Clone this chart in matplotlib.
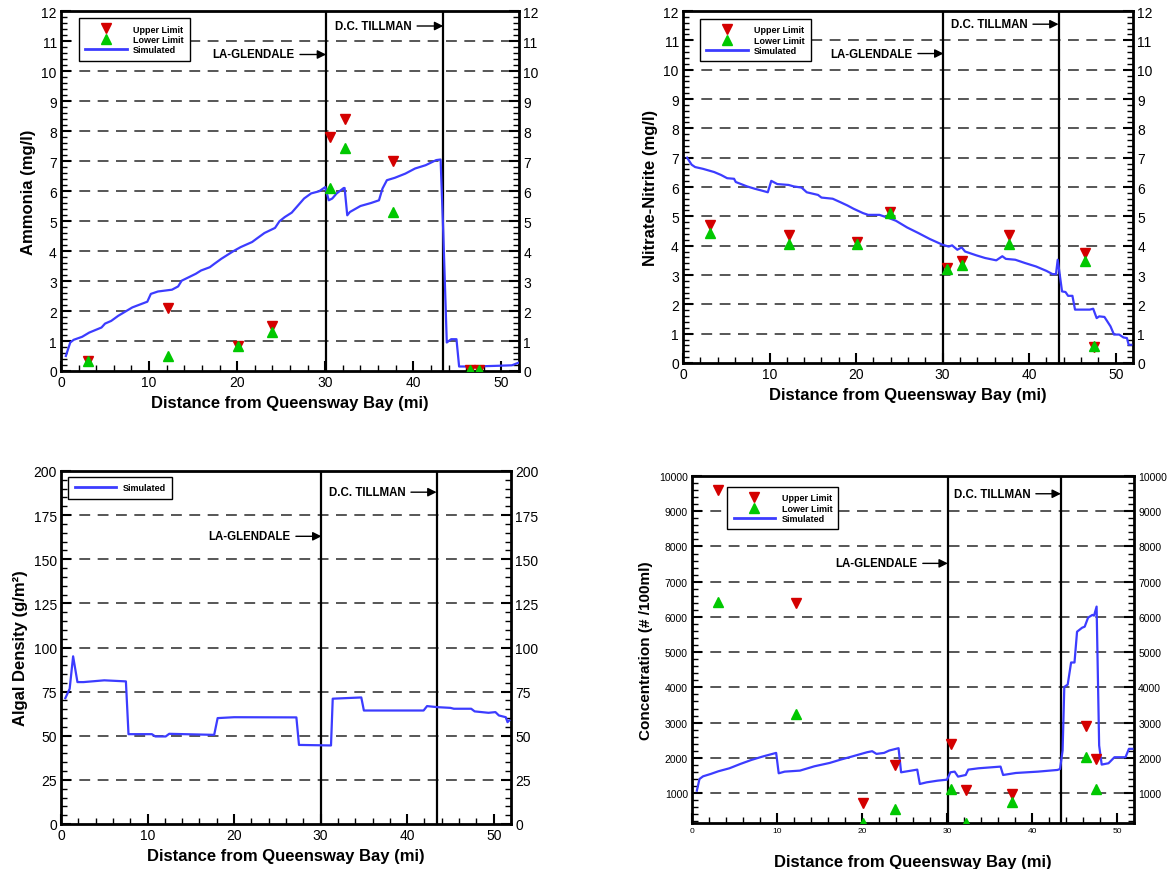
import matplotlib
matplotlib.use('Agg')
import matplotlib.pyplot as plt
from matplotlib.ticker import MultipleLocator, FixedLocator
from matplotlib.lines import Line2D

plt.rcParams['font.family'] = ['Liberation Sans', 'DejaVu Sans']

# ---------------- data ----------------
stations = [3.1, 12.2, 20.1, 23.9, 30.5, 32.2, 37.7, 46.4, 47.5]

nh3_upper = [0.35, 2.1, 0.85, 1.5, 7.8, 8.4, 7.0, 0.05, 0.05]
nh3_lower = [0.33, 0.5, 0.83, 1.3, 6.1, 7.45, 5.3, 0.03, 0.03]
nh3_x = [0.55, 1.05, 1.44, 2.4, 3.2, 4.6, 5.0, 5.7, 6.5, 8.1, 9.8, 10.2, 11.0, 12.6, 13.3,
         13.7, 15.3, 15.9, 16.9, 17.4, 18.2, 19.6, 20.4, 21.7, 22.3, 23.1, 24.3, 24.8, 25.4,
         26.2, 27.6, 28.4, 29.3, 30.0, 30.4, 30.8, 31.3, 32.1, 32.2, 32.5, 32.8, 34.0, 35.2,
         36.1, 36.5, 37.0, 37.9, 39.1, 40.2, 41.4, 42.6, 43.1, 43.4, 43.8, 44.3, 44.9, 45.2,
         46.9, 49.2, 51.2, 51.8, 52.0]
nh3_y = [0.5, 0.95, 1.04, 1.14, 1.28, 1.45, 1.58, 1.67, 1.84, 2.12, 2.31, 2.57, 2.65, 2.71, 2.82,
         3.01, 3.24, 3.35, 3.46, 3.57, 3.74, 4.0, 4.13, 4.30, 4.43, 4.60, 4.77, 4.99, 5.13,
         5.28, 5.75, 5.92, 5.99, 6.13, 5.69, 5.75, 5.92, 6.10, 6.10, 5.19, 5.30, 5.50, 5.60,
         5.69, 6.08, 6.36, 6.44, 6.58, 6.75, 6.86, 7.03, 7.05, 4.63, 0.95, 1.06, 1.06, 0.15,
         0.15, 0.17, 0.19, 0.26, 0.28]

no3_upper = [4.7, 4.35, 4.12, 5.15, 3.25, 3.47, 4.35, 3.75, 0.55]
no3_lower = [4.42, 4.05, 4.07, 5.12, 3.2, 3.33, 4.07, 3.47, 0.57]
no3_x = [0.47, 1.0, 1.4, 2.3, 3.6, 4.4, 5.1, 5.9, 6.1, 7.4, 8.3, 9.2, 9.8, 10.2, 10.9, 12.2,
         12.8, 13.7, 14.3, 15.6, 16.0, 17.3, 18.2, 19.0, 19.7, 20.8, 21.4, 22.7, 23.8, 24.6,
         25.9, 27.2, 28.5, 30.0, 30.7, 31.1, 31.7, 32.2, 32.6, 33.9, 34.9, 36.2, 36.9, 37.3,
         38.4, 39.5, 40.8, 42.0, 42.7, 43.1, 43.3, 43.8, 44.2, 44.5, 45.0, 45.3, 47.0, 47.4,
         47.8, 48.1, 48.7, 49.4, 49.8, 50.4, 50.9, 51.3, 51.5, 51.8]
no3_y = [7.0, 6.76, 6.68, 6.62, 6.51, 6.41, 6.30, 6.28, 6.17, 6.02, 5.94, 5.87, 5.82, 6.21, 6.10,
         6.07, 6.02, 5.98, 5.82, 5.73, 5.64, 5.60, 5.48, 5.37, 5.26, 5.11, 5.05, 5.05, 4.94,
         4.85, 4.62, 4.43, 4.23, 4.03, 3.97, 4.01, 3.86, 3.94, 3.80, 3.67, 3.58, 3.50, 3.64,
         3.55, 3.52, 3.41, 3.29, 3.14, 3.03, 3.03, 3.52, 2.44, 2.42, 2.29, 2.29, 1.82, 1.82,
         1.85, 1.53, 1.59, 1.57, 1.25, 0.97, 0.97, 0.87, 0.85, 0.62, 0.62]

alg_x = [0.5, 1.0, 1.4, 1.9, 2.6, 5.0, 7.5, 7.8, 9.7, 10.5, 10.9, 12.1, 12.5, 17.7, 18.1, 20.0,
         27.2, 27.5, 31.2, 31.4, 34.7, 35.0, 41.9, 42.3, 43.5, 45.0, 45.4, 47.4, 47.8, 49.4,
         50.2, 50.6, 51.4, 51.6, 51.8]
alg_y = [71.3, 76.6, 95.0, 80.4, 80.4, 81.4, 80.8, 50.9, 50.9, 50.9, 49.6, 49.6, 51.1, 50.5,
         60.0, 60.5, 60.4, 44.8, 44.5, 71.0, 71.7, 64.3, 64.3, 66.8, 66.2, 65.8, 65.3, 65.3,
         63.8, 63.0, 63.4, 61.5, 60.5, 57.7, 58.7]

bac_upper = [9600, 6400, 730, 1800, 2400, 1080, 960, 2900, 1980]
bac_lower = [6420, 3240, 150, 550, 1120, 150, 750, 2030, 1120]
bac_x = [0.57, 0.88, 1.3, 2.2, 3.1, 4.4, 5.7, 7.0, 8.3, 9.9, 10.2, 10.9, 12.7, 14.4, 16.2,
         17.5, 18.8, 20.6, 21.2, 21.7, 22.6, 23.2, 24.3, 24.6, 26.5, 26.8, 27.6, 28.9, 30.0,
         30.4, 30.9, 31.3, 32.2, 32.5, 33.7, 36.3, 36.6, 38.1, 40.7, 43.0, 43.3, 43.6, 43.8,
         44.2, 44.6, 45.0, 45.3, 45.9, 46.2, 46.6, 47.1, 47.3, 47.6, 47.9, 48.2, 49.0, 49.7,
         51.0, 51.4, 51.8]
bac_y = [1067, 1399, 1475, 1542, 1618, 1703, 1827, 1941, 2036, 2140, 1561, 1608, 1637, 1760,
         1855, 1950, 2036, 2159, 2188, 2112, 2140, 2207, 2274, 1589, 1665, 1257, 1304, 1352,
         1380, 1589, 1608, 1466, 1513, 1665, 1703, 1751, 1513, 1570, 1608, 1656, 1684, 2207,
         4013, 4079, 4706, 4706, 5580, 5694, 5723, 5980, 6056, 6037, 6293, 2350, 1808, 1846,
         2017, 2017, 2255, 2255]

plant_names = ['LA-GLENDALE', 'D.C. TILLMAN']
plant_x = [30.1, 43.4]

x_label = 'Distance from Queensway Bay (mi)'

# ---------------- styling ----------------
W, H = 1175, 870
fig = plt.figure(figsize=(W / 100, H / 100), dpi=100)

RED = '#d40000'
GREEN = '#00c800'
BLUE = '#3c3cff'


def rect(l, r, t, b):
    return [l / W, 1 - b / H, (r - l) / W, (b - t) / H]


def style(ax, ylim, major, minor, grid, label_y, ylabel, tick_fs=10, xtick_fs=None,
          ylabel_fs=12, xlabelpad=4):
    ax.set_xlim(0, 52)
    ax.set_ylim(*ylim)
    ax.xaxis.set_major_locator(MultipleLocator(10))
    ax.xaxis.set_minor_locator(MultipleLocator(2))
    ax.yaxis.set_major_locator(FixedLocator(major))
    ax.yaxis.set_minor_locator(FixedLocator(minor))
    ax.tick_params(which='both', direction='in', top=False, right=True,
                   labelright=True)
    ax.tick_params(which='major', length=7, width=1.5, labelsize=tick_fs, pad=3)
    ax.tick_params(which='minor', length=4, width=1.0)
    if xtick_fs:
        ax.tick_params(axis='x', labelsize=xtick_fs)
    for s in ax.spines.values():
        s.set_linewidth(2)
    for g in grid:
        ax.axhline(g, color='#3a3a3a', lw=1.2, ls=(0, (6.5, 4.5)), zorder=1)
    for px in plant_x:
        ax.axvline(px, color='k', lw=1.6, zorder=2)
    for name, px, py in zip(plant_names, plant_x, label_y):
        ax.annotate(name, xy=(px, py), xytext=(px - 3.6, py), ha='right', va='center',
                    fontsize=8.3, fontweight='bold',
                    arrowprops=dict(arrowstyle='-|>', color='k', lw=1.0,
                                    shrinkA=2, shrinkB=0, mutation_scale=13))
    ax.set_xlabel(x_label, fontsize=12, fontweight='bold', labelpad=xlabelpad)
    ax.set_ylabel(ylabel, fontsize=ylabel_fs, fontweight='bold')


def add_legend(ax, anchor, limits=True):
    handles = []
    if limits:
        handles.append(Line2D([], [], ls='none', marker='v', color=RED, ms=7,
                              label='Upper Limit'))
        handles.append(Line2D([], [], ls='none', marker='^', color=GREEN, ms=7,
                              label='Lower Limit'))
    handles.append(Line2D([], [], color=BLUE, lw=2, label='Simulated'))
    leg = ax.legend(handles=handles, loc='upper left', bbox_to_anchor=anchor,
                    borderaxespad=0, fancybox=False, edgecolor='k', framealpha=1,
                    prop=dict(weight='bold', size=6.5), handlelength=4.6,
                    labelspacing=0.15, borderpad=0.7, handletextpad=0.7)
    leg.get_frame().set_linewidth(1.0)


def draw_limits(ax, up, lo):
    ax.plot(stations, up, ls='none', marker='v', color=RED, ms=7, zorder=4)
    ax.plot(stations, lo, ls='none', marker='^', color=GREEN, ms=7, zorder=5)


# Panel 1: Ammonia
ax1 = fig.add_axes(rect(61, 519, 12, 372))
style(ax1, (0, 12), range(0, 13), [i * 0.2 for i in range(61)], range(1, 12),
      [10.55, 11.5], 'Ammonia (mg/l)')
ax1.plot(nh3_x, nh3_y, color=BLUE, lw=1.6, zorder=3)
draw_limits(ax1, nh3_upper, nh3_lower)
add_legend(ax1, (0.039, 0.98))

# Panel 2: Nitrate-Nitrite
ax2 = fig.add_axes(rect(683, 1133, 12, 364))
style(ax2, (0, 12), range(0, 13), [i * 0.2 for i in range(61)], range(1, 12),
      [10.55, 11.55], 'Nitrate-Nitrite (mg/l)')
ax2.plot(no3_x, no3_y, color=BLUE, lw=1.6, zorder=3)
draw_limits(ax2, no3_upper, no3_lower)
add_legend(ax2, (0.038, 0.977))

# Panel 3: Algal density
ax3 = fig.add_axes(rect(61, 511, 472, 825))
style(ax3, (0, 200), range(0, 201, 25), range(0, 201, 5), range(25, 200, 25),
      [163, 188], 'Algal Density (g/m²)')
ax3.plot(alg_x, alg_y, color=BLUE, lw=1.6, zorder=3)
add_legend(ax3, (0.016, 0.983), limits=False)

# Panel 4: Bacteria concentration
ax4 = fig.add_axes(rect(692, 1134, 477, 824))
style(ax4, (150, 10000), range(1000, 10001, 1000), range(200, 10001, 200),
      range(1000, 10000, 1000), [7520, 9496], 'Concentration (# /100ml)',
      tick_fs=7.5, xtick_fs=6, ylabel_fs=11, xlabelpad=14)
ax4.plot(bac_x, bac_y, color=BLUE, lw=1.6, zorder=3)
draw_limits(ax4, bac_upper, bac_lower)
add_legend(ax4, (0.08, 0.968))

fig.savefig('out.png', dpi=100)
